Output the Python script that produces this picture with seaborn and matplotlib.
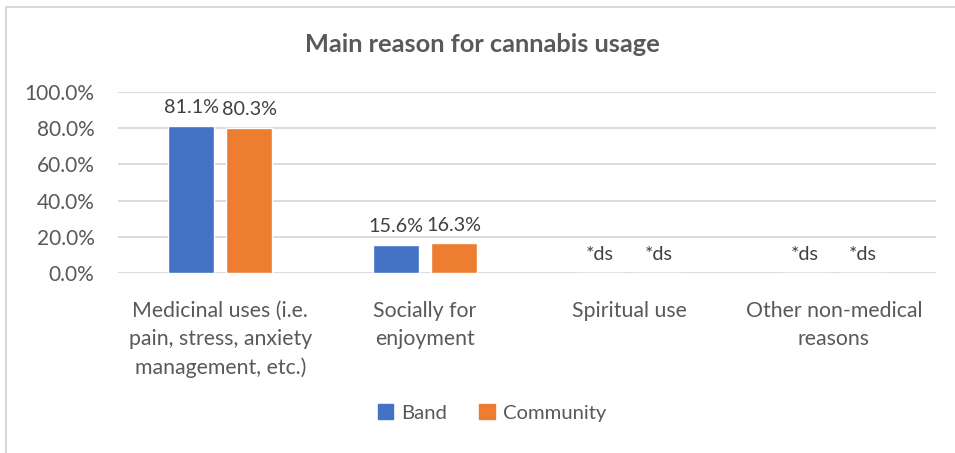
import numpy as np
import pandas as pd
import matplotlib
matplotlib.use("Agg")
import matplotlib.pyplot as plt
from matplotlib.ticker import PercentFormatter
from matplotlib.lines import Line2D
import seaborn as sns

# datos
categories = ["Medicinal uses (i.e.\npain, stress, anxiety\nmanagement, etc.)",
              "Socially for\nenjoyment",
              "Spiritual use",
              "Other non-medical\nreasons"]
groups = ["Band", "Community"]
band = [81.1, 15.6, np.nan, np.nan]        # nan = suppressed (*ds)
community = [80.3, 16.3, np.nan, np.nan]
colors = ["#4472C4", "#ED7D31"]

sns.set_theme(style="white")
plt.rcParams['font.family'] = ['Lato', 'DejaVu Sans']

df = pd.DataFrame({
    "category": categories * 2,
    "group": [groups[0]] * 4 + [groups[1]] * 4,
    "value": band + community,
})
df["plot_value"] = df["value"].fillna(0)

fig = plt.figure(figsize=(9.55, 4.53), dpi=100)
ax = fig.add_axes([0.1236, 0.3974, 0.8565, 0.3996])

sns.barplot(data=df, x="category", y="plot_value", hue="group", order=categories,
            hue_order=groups, palette=colors, width=0.568, gap=0.21,
            saturation=1, legend=False, ax=ax)

ax.set_ylim(0, 100)
ax.set_yticks(range(0, 101, 20))
ax.yaxis.set_major_formatter(PercentFormatter(xmax=100, decimals=1))
ax.grid(axis="y", color="#D9D9D9", linewidth=1.3)
ax.set_axisbelow(True)
for s in ax.spines.values():
    s.set_visible(False)
ax.set_xlabel("")
ax.set_ylabel("")
ax.tick_params(axis="both", length=0, labelsize=15, labelcolor="#595959")
ax.tick_params(axis="y", pad=17)
ax.tick_params(axis="x", pad=20, labelsize=15.3)
for lab in ax.get_xticklabels():
    lab.set_linespacing(1.5)

# etiquetas de datos
for cont, vals in zip(ax.containers, [band, community]):
    labels = ["*ds" if np.isnan(v) else f"{v:.1f}%" for v in vals]
    ax.bar_label(cont, labels=labels, padding=7, fontsize=14.2, color="#404040")

fig.text(0.505, 0.9007, "Main reason for cannabis usage", ha="center", va="center",
         fontsize=18.3, fontweight="bold", color="#595959")

handles = [plt.Rectangle((0, 0), 1, 1, color=c) for c in colors]
fig.legend(handles, groups, loc="center", bbox_to_anchor=(0.515, 0.088), ncol=2,
           frameon=False, fontsize=14.6, handlelength=0.75, handleheight=0.75,
           handletextpad=0.4, columnspacing=1.6, labelcolor="#595959")

# borde del grafico
fig.add_artist(Line2D([0.0068, 0.0068], [0, 0.985], color="#D9D9D9", lw=1.5,
                      transform=fig.transFigure))
fig.add_artist(Line2D([0.0068, 1], [0.985, 0.985], color="#D9D9D9", lw=1.5,
                      transform=fig.transFigure))

fig.savefig("out.png", dpi=100)
